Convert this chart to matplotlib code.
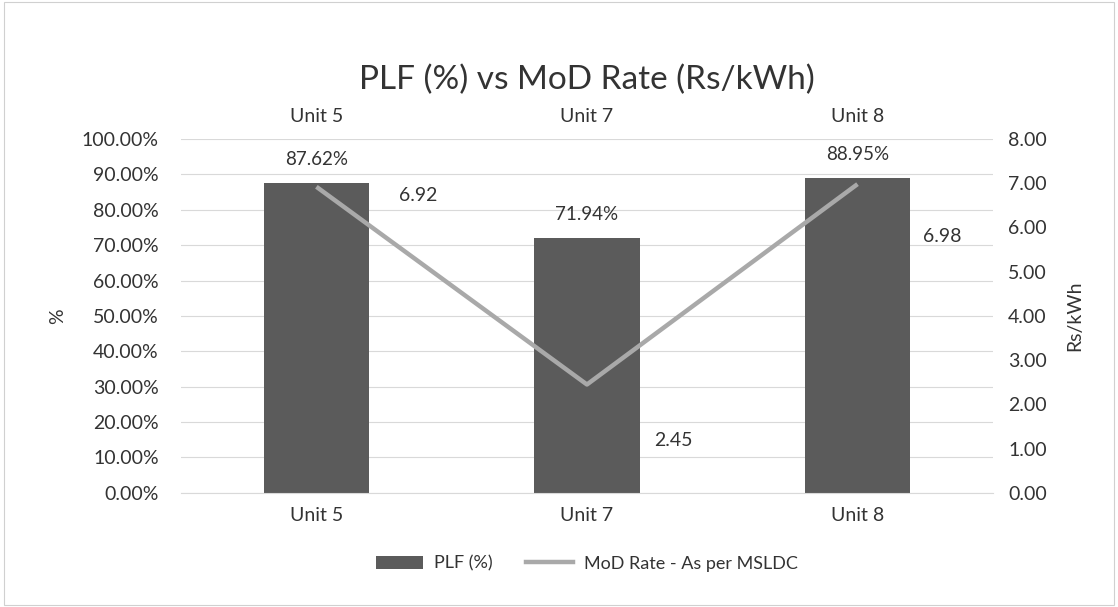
import matplotlib
matplotlib.use("Agg")
import matplotlib.pyplot as plt
from matplotlib.patches import Patch, Rectangle
from matplotlib.lines import Line2D
from matplotlib.ticker import FuncFormatter, MultipleLocator

# data
units = ["Unit 5", "Unit 7", "Unit 8"]
plf = [0.8762, 0.7194, 0.8895]
mod_rate = [6.92, 2.45, 6.98]
# where each rate label sits relative to its point (points)
rate_label_offsets = [(73, -6), (62, -40), (61, -38)]

bar_color = "#5b5b5b"
line_color = "#a9a9a9"
text_color = "#333333"
grid_color = "#d9d9d9"

plt.rcParams["font.family"] = ["Lato", "DejaVu Sans"]

fig = plt.figure(figsize=(11.18, 6.07), dpi=100)
fig.patches.append(Rectangle((0.004, 0.004), 0.992, 0.992, transform=fig.transFigure,
                             fill=False, edgecolor="#d0d0d0", linewidth=0.8))
ax = fig.add_axes([0.162, 0.188, 0.726, 0.583])
ax2 = ax.twinx()

x = list(range(len(units)))
ax.bar(x, plf, width=0.39, color=bar_color, zorder=2)
ax2.plot(x, mod_rate, color=line_color, linewidth=3.2, solid_capstyle="butt", zorder=3)

# left axis
ax.set_ylim(0, 1.0)
ax.set_xlim(-0.5, len(units) - 0.5)
ax.yaxis.set_major_locator(MultipleLocator(0.1))
ax.yaxis.set_major_formatter(FuncFormatter(lambda v, p: f"{v * 100:.2f}%"))
ax.grid(axis="y", color=grid_color, linewidth=0.8, zorder=0)
ax.set_axisbelow(True)
ax.set_xticks(x)
ax.set_xticklabels(units)
ax.tick_params(axis="x", length=0, pad=10, labelsize=14, labelcolor=text_color,
               labeltop=True, top=False)
ax.tick_params(axis="y", length=0, pad=16, labelsize=14, labelcolor=text_color)
for s in ["top", "left", "right"]:
    ax.spines[s].set_visible(False)
ax.spines["bottom"].set_color(grid_color)
ax.set_ylabel("%", fontsize=14, color=text_color)
ax.yaxis.set_label_coords(-0.142, 0.5)

# right axis
ax2.set_ylim(0, 8)
ax2.yaxis.set_major_locator(MultipleLocator(1))
ax2.yaxis.set_major_formatter(FuncFormatter(lambda v, p: f"{v:.2f}"))
ax2.tick_params(axis="y", length=0, pad=11, labelsize=14, labelcolor=text_color)
for s in ax2.spines.values():
    s.set_visible(False)
ax2.set_ylabel("Rs/kWh", fontsize=14, color=text_color)
ax2.yaxis.set_label_coords(1.09, 0.5)

# data labels
for xi, v in zip(x, plf):
    ax.annotate(f"{v * 100:.2f}%", (xi, v), xytext=(0, 17), textcoords="offset points",
                ha="center", va="center", fontsize=13.5, color=text_color)
for xi, v, off in zip(x, mod_rate, rate_label_offsets):
    ax2.annotate(f"{v:.2f}", (xi, v), xytext=off, textcoords="offset points",
                 ha="center", va="center", fontsize=14, color=text_color)

ax.set_title("PLF (%) vs MoD Rate (Rs/kWh)", fontsize=24, color=text_color, pad=36)

handles = [Patch(facecolor=bar_color, label="PLF (%)"),
           Line2D([0], [0], color=line_color, linewidth=3.2, label="MoD Rate - As per MSLDC")]
ax.legend(handles=handles, loc="center", bbox_to_anchor=(0.5, -0.2), ncol=2,
          frameon=False, fontsize=13, labelcolor=text_color, handlelength=2.6,
          columnspacing=1.9, handletextpad=0.6)

fig.savefig("out.png", dpi=100)
